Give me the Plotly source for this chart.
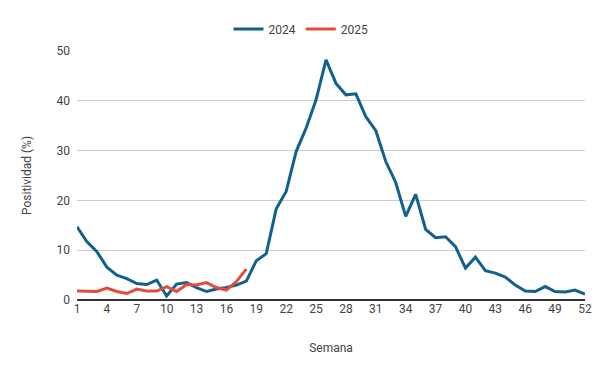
import plotly.graph_objects as go

weeks_2024 = list(range(1, 53))
pos_2024 = [14.7, 11.7, 9.7, 6.6, 5.0, 4.3, 3.3, 3.1, 4.0, 0.8,
            3.2, 3.5, 2.5, 1.7, 2.2, 2.5, 3.0, 3.8, 7.9, 9.3,
            18.3, 21.8, 29.8, 34.5, 40.2, 48.2, 43.5, 41.2, 41.4, 36.8,
            34.0, 27.8, 23.6, 16.8, 21.2, 14.2, 12.5, 12.7, 10.7, 6.4,
            8.6, 5.9, 5.4, 4.6, 3.0, 1.8, 1.7, 2.7, 1.7, 1.6,
            2.0, 1.2]
weeks_2025 = list(range(1, 19))
pos_2025 = [1.8, 1.7, 1.7, 2.4, 1.7, 1.3, 2.2, 1.8, 1.8, 2.7,
            1.7, 3.1, 3.0, 3.5, 2.5, 2.0, 3.7, 6.2]
x_ticks = list(range(1, 53, 3))
y_ticks = [0, 10, 20, 30, 40, 50]

BLUE = "#11618f"
RED = "#e04e3b"

fig = go.Figure()
fig.add_trace(go.Scatter(x=weeks_2024, y=pos_2024, mode="lines", name="2024",
                         line=dict(color=BLUE, width=3)))
fig.add_trace(go.Scatter(x=weeks_2025, y=pos_2025, mode="lines", name="2025",
                         line=dict(color=RED, width=3)))

# page body has an 8px default margin, so the figure is sized/offset to compensate
fig.update_layout(
    width=592, height=363,
    margin=dict(l=69, r=15, t=43, b=71, autoexpand=False),
    paper_bgcolor="white", plot_bgcolor="white",
    font=dict(family="Roboto", size=12, color="#444"),
    legend=dict(orientation="h", x=0.441, xanchor="center",
                y=1.088, yanchor="middle",
                font=dict(size=12, color="#444"), itemwidth=30),
    showlegend=True,
)
fig.update_xaxes(range=[1, 52], tickvals=x_ticks, showgrid=False, zeroline=False,
                 showline=False, ticks="", automargin=False,
                 tickfont=dict(size=12, color="#444"),
                 title=dict(text="Semana", font=dict(size=12, color="#444"), standoff=28))
fig.update_yaxes(range=[0, 50], tickvals=y_ticks, showgrid=True, gridcolor="#cccccc",
                 gridwidth=1, zeroline=True, zerolinecolor="#333333", zerolinewidth=1.5,
                 showline=False, ticks="", automargin=False, ticklabelstandoff=6,
                 tickfont=dict(size=12, color="#444"),
                 title=dict(text="Positividad (%)", font=dict(size=12, color="#444"), standoff=22))

fig.write_html("out.html")
